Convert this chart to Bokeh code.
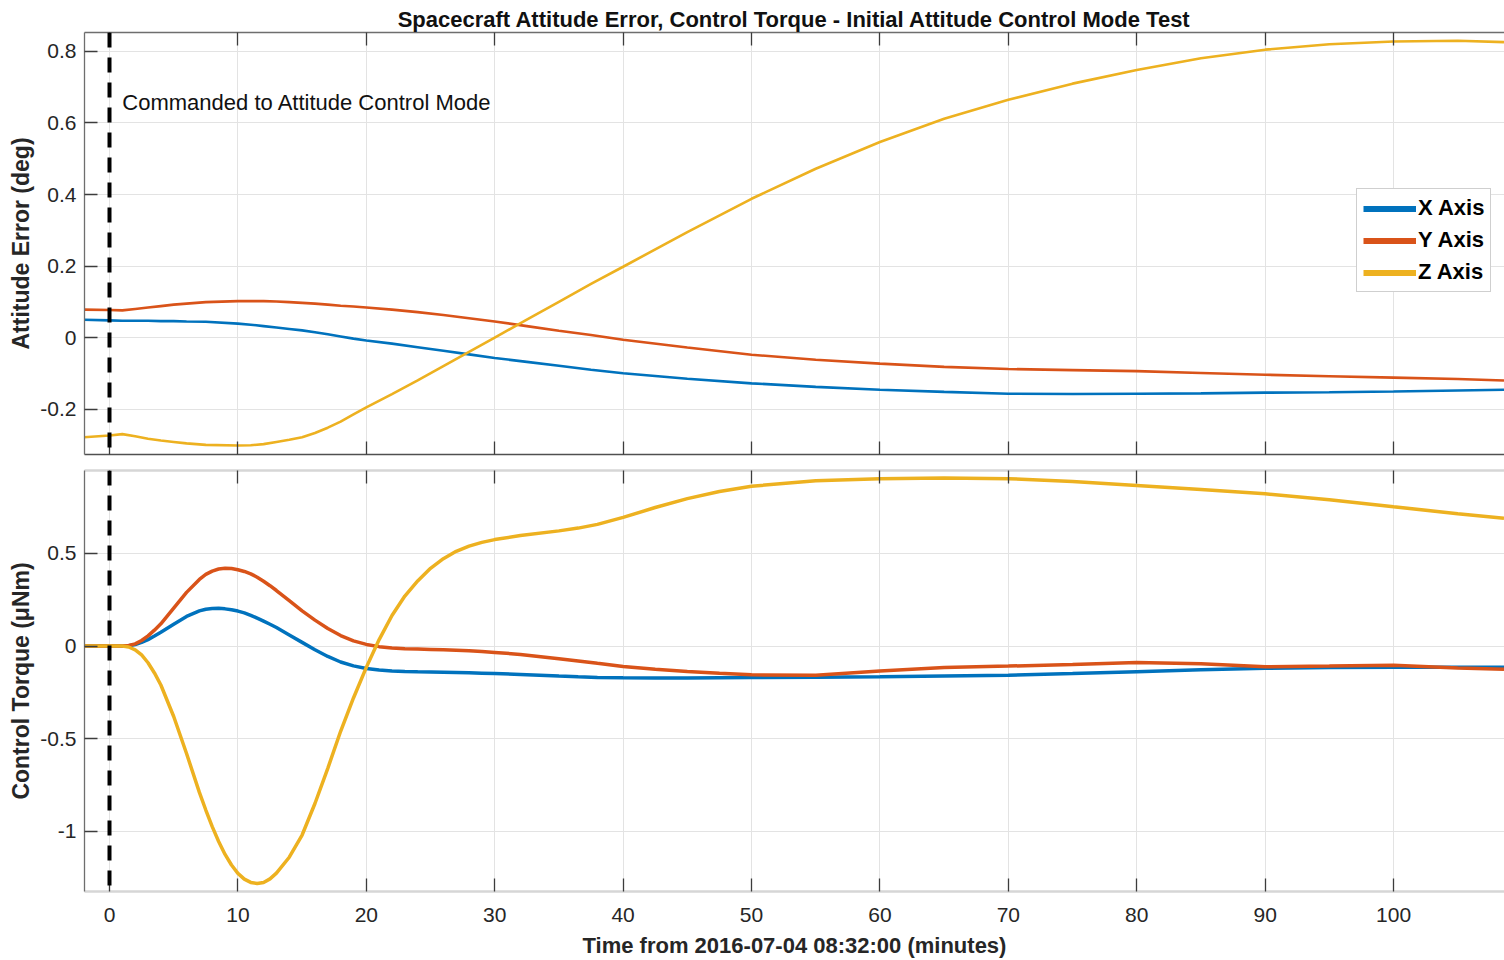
from bokeh.plotting import figure
from bokeh.layouts import column
from bokeh.models import (Range1d, LinearAxis, FixedTicker, Span, Label, Legend,
                          LegendItem, CustomJSTickFormatter)
from bokeh.embed import file_html
from bokeh.resources import INLINE

# ---------------- data ----------------
TITLE = "Spacecraft Attitude Error, Control Torque - Initial Attitude Control Mode Test"
X_LABEL = "Time from 2016-07-04 08:32:00 (minutes)"
Y_LABEL_TOP = "Attitude Error (deg)"
Y_LABEL_BOT = "Control Torque (\u03bcNm)"
NOTE = "Commanded to Attitude Control Mode"
series_names = ["X Axis", "Y Axis", "Z Axis"]

x_ticks = [0, 10, 20, 30, 40, 50, 60, 70, 80, 90, 100]
x_tick_labels = ["0", "10", "20", "30", "40", "50", "60", "70", "80", "90", "100"]
att_ticks = [-0.2, 0, 0.2, 0.4, 0.6, 0.8]
att_tick_labels = ["-0.2", "0", "0.2", "0.4", "0.6", "0.8"]
tq_ticks = [-1, -0.5, 0, 0.5]
tq_tick_labels = ["-1", "-0.5", "0", "0.5"]

# attitude error (deg)
t_att = [-2, 0, 1, 2, 3, 4, 5, 6, 7.5,
         10, 11, 12, 13, 14, 15, 16, 17, 18, 19,
         20, 22, 24, 26, 28, 30,
         32.5, 35, 37.5, 40,
         45, 50, 55, 60, 65, 70, 75, 80, 85, 90, 95, 100, 105, 108.6]
att_x = [0.05, 0.048, 0.047, 0.047, 0.047, 0.046, 0.046, 0.045, 0.044,
         0.039, 0.036, 0.032, 0.028, 0.024, 0.02, 0.015, 0.009, 0.003, -0.003,
         -0.008, -0.017, -0.027, -0.037, -0.047, -0.057,
         -0.068, -0.079, -0.09, -0.1,
         -0.115, -0.128, -0.138, -0.146, -0.152, -0.157, -0.158, -0.157, -0.156,
         -0.154, -0.153, -0.151, -0.148, -0.146]
att_y = [0.078, 0.077, 0.076, 0.08, 0.084, 0.088, 0.092, 0.095, 0.099,
         0.102, 0.102, 0.102, 0.101, 0.099, 0.097, 0.095, 0.092, 0.089, 0.087,
         0.084, 0.078, 0.071, 0.063, 0.054, 0.045,
         0.032, 0.019, 0.007, -0.006,
         -0.028, -0.048, -0.062, -0.073, -0.082, -0.088, -0.091, -0.094, -0.099,
         -0.104, -0.108, -0.112, -0.116, -0.12]
att_z = [-0.279, -0.274, -0.27, -0.276, -0.283, -0.288, -0.292, -0.296, -0.3,
         -0.302, -0.301, -0.298, -0.292, -0.286, -0.279, -0.267, -0.252, -0.235, -0.215,
         -0.195, -0.158, -0.12, -0.08, -0.04, 0.0,
         0.05, 0.1, 0.15, 0.198,
         0.295, 0.388, 0.472, 0.547, 0.612, 0.665, 0.71, 0.748, 0.781, 0.805, 0.82,
         0.828, 0.83, 0.826]

# control torque (uNm)
t_tq = [-2, 0, 1, 1.5, 2, 2.5, 3, 3.5, 4, 5, 6, 7,
        7.5, 8, 8.5, 9, 9.5, 10, 10.5, 11, 11.5, 12, 12.5, 13,
        14, 15, 16, 17, 18, 19, 20, 21, 22, 23, 24, 25, 26, 27, 28, 29, 30,
        32, 35, 36.5, 38, 40, 42.5, 45, 47.5, 50,
        55, 60, 65, 70, 75, 80, 85, 90, 95, 100, 105, 108.6]
tq_x = [0, 0, 0, 0.002, 0.008, 0.02, 0.035, 0.054, 0.075, 0.118, 0.16, 0.19,
        0.199, 0.203, 0.204, 0.201, 0.196, 0.189, 0.179, 0.166, 0.151, 0.135, 0.118, 0.1,
        0.06, 0.02, -0.02, -0.056, -0.086, -0.107, -0.121, -0.129, -0.134, -0.137,
        -0.139, -0.14, -0.141, -0.142, -0.144, -0.146, -0.148,
        -0.153, -0.162, -0.166, -0.169, -0.171, -0.172, -0.172, -0.171, -0.17,
        -0.168, -0.165, -0.161, -0.157, -0.148, -0.138, -0.128, -0.12, -0.116,
        -0.114, -0.114, -0.114]
tq_y = [0, 0, 0, 0.003, 0.012, 0.03, 0.055, 0.086, 0.12, 0.205, 0.29, 0.36,
        0.387, 0.405, 0.416, 0.42, 0.419, 0.412, 0.403, 0.39, 0.372, 0.35, 0.326, 0.3,
        0.245, 0.19, 0.14, 0.095, 0.057, 0.028, 0.009, -0.003, -0.01, -0.014,
        -0.016, -0.018, -0.02, -0.022, -0.025, -0.029, -0.034,
        -0.045, -0.068, -0.08, -0.093, -0.11, -0.125, -0.137, -0.147, -0.155,
        -0.158, -0.135, -0.115, -0.108, -0.1, -0.088, -0.095, -0.112, -0.108,
        -0.103, -0.118, -0.125]
tq_z = [0, 0, 0, -0.005, -0.02, -0.048, -0.09, -0.145, -0.21, -0.38, -0.58, -0.79,
        -0.885, -0.975, -1.055, -1.125, -1.182, -1.227, -1.258, -1.276, -1.282,
        -1.276, -1.257, -1.226,
        -1.14, -1.02, -0.85, -0.66, -0.46, -0.28, -0.115, 0.035, 0.165, 0.27,
        0.352, 0.42, 0.472, 0.512, 0.54, 0.56, 0.575,
        0.597, 0.622, 0.637, 0.657, 0.695, 0.748, 0.796, 0.835, 0.863,
        0.893, 0.904, 0.907, 0.904, 0.889, 0.867, 0.845, 0.822, 0.79, 0.752,
        0.715, 0.69]

colors = ["#0072BD", "#D95319", "#EDB120"]

# ---------------- styling ----------------
FONT = "Liberation Sans"
TICK_SIZE = "21px"
W = 1504
X_RANGE = (-1.947, 108.64)
AX_COL = "#6e6e6e"
TICK_COL = "#3c3c3c"
GRID_COL = "#e3e3e3"
LIGHT_EDGE = "#d6d6d6"


def blank():
    return CustomJSTickFormatter(code="return ''")


def style_common(p):
    p.outline_line_color = None
    p.background_fill_color = "white"
    p.border_fill_color = "white"
    p.xgrid.ticker = FixedTicker(ticks=x_ticks)
    for g in (p.xgrid, p.ygrid):
        g.grid_line_color = GRID_COL
        g.grid_line_width = 1


def style_axis(ax, ticks, labels, show_labels=True, line_col=AX_COL, line_w=1.3):
    ax.ticker = FixedTicker(ticks=ticks)
    ax.major_tick_in = 13
    ax.major_tick_out = 0
    ax.minor_tick_line_color = None
    ax.major_tick_line_color = TICK_COL
    ax.major_tick_line_width = 1.3
    ax.axis_line_color = line_col
    ax.axis_line_width = line_w
    if show_labels:
        ax.major_label_overrides = {t: l for t, l in zip(ticks, labels)}
        ax.major_label_text_font = FONT
        ax.major_label_text_font_size = TICK_SIZE
        ax.major_label_text_color = "#262626"
    else:
        ax.formatter = blank()
        ax.major_label_standoff = 0


def style_ylabel(ax, text):
    ax.axis_label = text
    ax.axis_label_text_font = FONT
    ax.axis_label_text_font_size = "23px"
    ax.axis_label_text_font_style = "bold"
    ax.axis_label_text_color = "#262626"
    ax.axis_label_standoff = 3
    ax.major_label_standoff = 8


# ---------------- top panel ----------------
p1 = figure(width=W, height=462, output_backend="svg", toolbar_location=None,
            x_range=Range1d(*X_RANGE), y_range=Range1d(-0.327, 0.853),
            min_border_left=84, min_border_right=0, min_border_top=32,
            min_border_bottom=8, x_axis_location="below")
p1.title.text = TITLE
p1.title.text_font = FONT
p1.title.text_font_size = "22px"
p1.title.text_font_style = "bold"
p1.title.align = "center"
p1.title.standoff = 2
p1.title.text_color = "#111111"
style_common(p1)
p1.ygrid.ticker = FixedTicker(ticks=att_ticks)
style_axis(p1.xaxis[0], x_ticks, x_tick_labels, show_labels=False, line_col="#505050")
style_axis(p1.yaxis[0], att_ticks, att_tick_labels)
style_ylabel(p1.yaxis[0], Y_LABEL_TOP)
top_ax1 = LinearAxis()
style_axis(top_ax1, x_ticks, x_tick_labels, show_labels=False)
p1.add_layout(top_ax1, "above")

p1.add_layout(Span(location=0, dimension="height", line_color="black",
                   line_width=4, line_dash="15 10"))

for ys, c in zip([att_x, att_y, att_z], colors):
    p1.line(t_att, ys, line_color=c, line_width=2.6)

p1.add_layout(Label(x=1.0, y=0.657, text=NOTE, text_font=FONT, text_font_size="22px",
                    text_baseline="middle", text_color="#111111"))

# legend proxies (single-point lines: invisible in the plot, thick in the legend)
leg_items = []
for name, ys, c in zip(series_names, [att_x, att_y, att_z], colors):
    rr = p1.line(t_att[:1], ys[:1], line_color=c, line_width=6)
    leg_items.append(LegendItem(label=name, renderers=[rr]))
legend = Legend(items=leg_items, location=(1272, 162), orientation="vertical",
                glyph_width=53, glyph_height=25, label_height=25, spacing=6,
                padding=6, margin=0, label_standoff=2,
                label_text_font=FONT, label_text_font_size="22px",
                label_text_font_style="bold", label_text_color="black",
                border_line_color="#a0a0a0", border_line_width=1,
                background_fill_color="white", background_fill_alpha=1)
p1.add_layout(legend, "center")

# ---------------- bottom panel ----------------
p2 = figure(width=W, height=498, output_backend="svg", toolbar_location=None,
            x_range=p1.x_range, y_range=Range1d(-1.325, 0.948),
            min_border_left=84, min_border_right=0, min_border_top=8,
            min_border_bottom=68)
style_common(p2)
p2.ygrid.ticker = FixedTicker(ticks=tq_ticks)
style_axis(p2.xaxis[0], x_ticks, x_tick_labels, line_col=LIGHT_EDGE, line_w=2.5)
p2.xaxis[0].major_label_standoff = 16
p2.xaxis[0].axis_label = X_LABEL
p2.xaxis[0].axis_label_text_font = FONT
p2.xaxis[0].axis_label_text_font_size = "22px"
p2.xaxis[0].axis_label_text_font_style = "bold"
p2.xaxis[0].axis_label_text_color = "#262626"
p2.xaxis[0].axis_label_standoff = 8
style_axis(p2.yaxis[0], tq_ticks, tq_tick_labels)
style_ylabel(p2.yaxis[0], Y_LABEL_BOT)
top_ax2 = LinearAxis()
style_axis(top_ax2, x_ticks, x_tick_labels, show_labels=False, line_col=LIGHT_EDGE,
           line_w=2.5)
p2.add_layout(top_ax2, "above")

p2.add_layout(Span(location=0, dimension="height", line_color="black",
                   line_width=4, line_dash="15 10"))

for ys, c in zip([tq_x, tq_y, tq_z], colors):
    p2.line(t_tq, ys, line_color=c, line_width=3.5)

layout = column(p1, p2, spacing=0)
open("out.html", "w").write(file_html(layout, INLINE))
